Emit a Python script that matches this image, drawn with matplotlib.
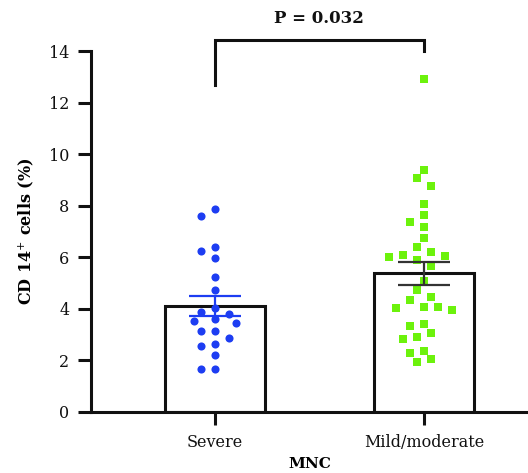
import numpy as np
import matplotlib
matplotlib.use('Agg')
import matplotlib.pyplot as plt

# groups and read-off values (% CD14+ cells)
groups = ['Severe', 'Mild/moderate']
severe = [7.86, 7.6, 6.41, 6.26, 5.98, 5.25, 4.72, 4.05, 3.89, 3.79, 3.62,
          3.53, 3.46, 3.15, 3.14, 2.88, 2.65, 2.56, 2.22, 1.68, 1.68]
mild = [12.9, 9.38, 9.06, 8.76, 8.05, 7.64, 7.38, 7.19, 6.76, 6.39, 6.19,
        6.09, 6.06, 6.0, 5.89, 5.66, 5.08, 4.73, 4.47, 4.34, 4.08, 4.06,
        4.05, 3.96, 3.40, 3.33, 3.08, 2.90, 2.83, 2.37, 2.28, 2.05, 1.93]
means = [4.1, 5.38]
sems = [0.39, 0.44]
p_text = 'P = 0.032'

blue = '#1d3df2'
green = '#6cf20c'

plt.rcParams['font.family'] = 'DejaVu Serif'

fig = plt.figure(figsize=(5.28, 4.73), dpi=100)
ax = fig.add_axes([0.172, 0.129, 0.828, 0.763])
ax.set_xlim(-0.593, 1.498)
ax.set_ylim(0, 14)

# pixel scale of the axes, used to lay out the dots side by side
px_x = 209.0
px_y = 361.0 / 14


def swarm(vals, step=7.0, gap=10.5):
    """simple beeswarm: returns x offsets (data units)"""
    placed = []
    offs = []
    for v in vals:
        y = v * px_y
        cands = [0]
        for i in range(1, 8):
            cands += [-i, i]
        for c in cands:
            x = c * step
            ok = True
            for (px, py) in placed:
                if (px - x) ** 2 + (py - y) ** 2 < gap ** 2:
                    ok = False
                    break
            if ok:
                break
        placed.append((x, y))
        offs.append(x / px_x)
    return np.array(offs)


# bars
ax.bar([0, 1], means, width=0.48, color='white', edgecolor='#111111',
       linewidth=2.2, zorder=1)

# dots
ax.scatter(0 + swarm(severe), severe, s=34, color=blue, marker='o',
           linewidths=0, zorder=3)
ax.scatter(1 + swarm(mild), mild, s=30, color=green, marker='s',
           linewidths=0, zorder=3)

# mean +- sem
ax.errorbar([0], [means[0]], yerr=[sems[0]], fmt='none', ecolor=blue,
            elinewidth=1.6, capsize=19, capthick=1.6, zorder=4)
ax.errorbar([1], [means[1]], yerr=[sems[1]], fmt='none', ecolor='#333333',
            elinewidth=1.6, capsize=19, capthick=1.6, zorder=4)

# significance bracket
ax.plot([0, 0, 1, 1], [12.7, 14.42, 14.42, 14.0], color='#111111',
        linewidth=2.2, clip_on=False, solid_joinstyle='miter')
ax.text(0.5, 15.25, p_text, ha='center', va='center', fontsize=12,
        fontweight='bold', color='#111111')

ax.set_xticks([0, 1])
ax.set_xticklabels(groups)
ax.set_yticks(np.arange(0, 15, 2))
ax.tick_params(axis='both', width=2.2, length=9.5, labelsize=11.5,
               colors='#111111')
ax.tick_params(axis='x', pad=6)
ax.tick_params(axis='y', pad=6)
for s in ['top', 'right']:
    ax.spines[s].set_visible(False)
for s in ['left', 'bottom']:
    ax.spines[s].set_linewidth(2.2)
    ax.spines[s].set_color('#111111')

ax.set_xlabel('MNC', fontsize=11, fontweight='bold', labelpad=5)
ax.set_ylabel(r'CD 14$^{+}$ cells (%)', fontsize=11.5, fontweight='bold',
              labelpad=9)

plt.savefig('out.png', dpi=100)
